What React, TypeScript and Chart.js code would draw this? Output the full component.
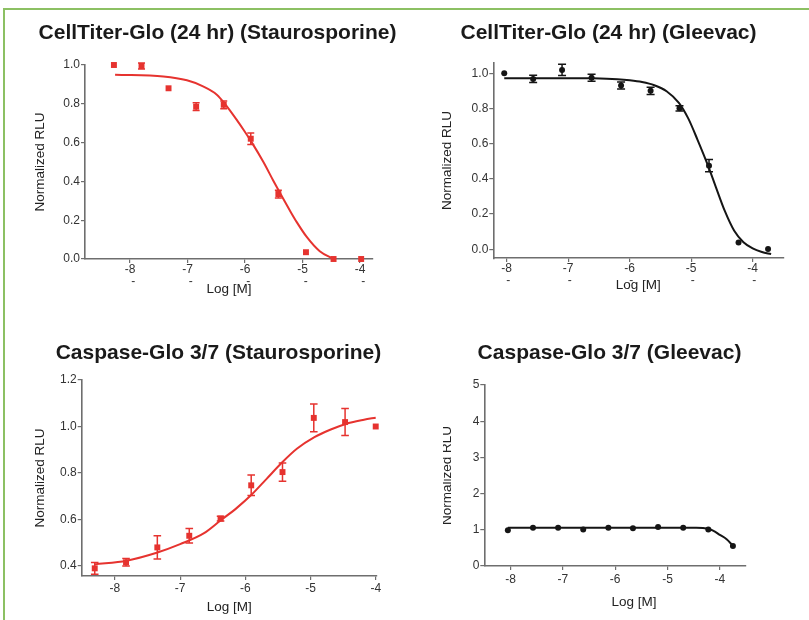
import React, { useEffect, useRef } from 'react';
import { Chart, registerables } from 'chart.js';

Chart.register(...registerables);

const FONT = 'Arial, "Liberation Sans", Helvetica, sans-serif';
const RED = '#e6332f';
const BLACK = '#151515';
const AXIS = '#6e6e6e';
const TICK_TEXT = '#333333';

// ---------- Panel 1: CellTiter-Glo (24 hr) (Staurosporine) ----------
const ctgStauroLogM = [-8.28, -7.8, -7.33, -6.85, -6.37, -5.9, -5.42, -4.94, -4.46, -3.98];
const ctgStauroRLU = [1.0, 0.995, 0.88, 0.785, 0.795, 0.62, 0.335, 0.035, 0.0, 0.0];
const ctgStauroErr = [0, 0.015, 0, 0.02, 0.02, 0.03, 0.02, 0, 0, 0];
const ctgStauroFitX = [-8.26, -7.42, -7.01, -6.73, -6.49, -6.35, -6.15, -6.0, -5.88, -5.68, -5.51, -5.4, -5.22, -5.1, -4.93, -4.7, -4.46];
const ctgStauroFitY = [0.95, 0.941, 0.921, 0.89, 0.847, 0.8, 0.72, 0.655, 0.6, 0.5, 0.405, 0.345, 0.25, 0.19, 0.115, 0.04, 0.0];

// ---------- Panel 2: CellTiter-Glo (24 hr) (Gleevac) ----------
const ctgGleevacLogM = [-8.04, -7.57, -7.1, -6.62, -6.14, -5.66, -5.19, -4.71, -4.23, -3.75];
const ctgGleevacRLU = [1.0, 0.968, 1.019, 0.975, 0.93, 0.9, 0.801, 0.475, 0.038, 0.002];
const ctgGleevacErr = [0, 0.02, 0.032, 0.02, 0.02, 0.02, 0.015, 0.035, 0, 0];
const ctgGleevacFitX = [-8.04, -7.0, -6.6, -6.2, -6.0, -5.8, -5.6, -5.4, -5.2, -5.05, -4.9, -4.72, -4.6, -4.45, -4.3, -4.15, -4.0, -3.85, -3.7];
const ctgGleevacFitY = [0.972, 0.972, 0.971, 0.966, 0.96, 0.95, 0.932, 0.898, 0.832, 0.745, 0.625, 0.47, 0.355, 0.215, 0.105, 0.04, 0.005, -0.015, -0.027];

// ---------- Panel 3: Caspase-Glo 3/7 (Staurosporine) ----------
const casStauroLogM = [-8.31, -7.83, -7.35, -6.86, -6.38, -5.91, -5.43, -4.95, -4.47, -4.0];
const casStauroRLU = [0.39, 0.416, 0.48, 0.53, 0.604, 0.747, 0.804, 1.037, 1.019, 1.0];
const casStauroErr = [0.025, 0.016, 0.05, 0.031, 0.01, 0.044, 0.039, 0.06, 0.058, 0];
const casStauroFitX = [-8.31, -7.82, -7.36, -7.0, -6.64, -6.38, -6.13, -5.91, -5.67, -5.43, -5.21, -4.94, -4.69, -4.46, -4.18, -4.0];
const casStauroFitY = [0.407, 0.423, 0.457, 0.494, 0.54, 0.596, 0.65, 0.705, 0.776, 0.847, 0.904, 0.954, 0.987, 1.011, 1.029, 1.038];

// ---------- Panel 4: Caspase-Glo 3/7 (Gleevac) ----------
const casGleevacLogM = [-8.05, -7.57, -7.09, -6.61, -6.13, -5.66, -5.18, -4.7, -4.22, -3.75];
const casGleevacRLU = [0.99, 1.06, 1.06, 1.01, 1.06, 1.04, 1.08, 1.06, 1.01, 0.55];
const casGleevacErr = [0, 0, 0, 0, 0, 0, 0, 0, 0, 0];
const casGleevacFitX = [-8.05, -7.0, -6.0, -5.0, -4.45, -4.22, -4.13, -4.0, -3.87, -3.75];
const casGleevacFitY = [1.06, 1.06, 1.06, 1.06, 1.06, 1.03, 0.98, 0.86, 0.74, 0.56];

// ---------- Axis ticks / labels ----------
const logTicks = [-8, -7, -6, -5, -4];
const logLabelsP1 = [['-8', '  -'], ['-7', '  -'], ['-6', '  -'], ['-5', '  -'], ['-4', '  -']];
const logLabelsP2 = [['-8', ' -'], ['-7', ' -'], ['-6', ' -'], ['-5', ' -'], ['-4', ' -']];
const logLabelsPlain = ['-8', '-7', '-6', '-5', '-4'];
const rluTicks01 = [0, 0.2, 0.4, 0.6, 0.8, 1.0];
const rluTicksCas = [0.4, 0.6, 0.8, 1.0, 1.2];
const rluTicksInt = [0, 1, 2, 3, 4, 5];

const titles = [
  'CellTiter-Glo (24 hr) (Staurosporine)',
  'CellTiter-Glo (24 hr) (Gleevac)',
  'Caspase-Glo 3/7 (Staurosporine)',
  'Caspase-Glo 3/7 (Gleevac)',
];
const yAxisTitle = 'Normalized RLU';
const xAxisTitle = 'Log [M]';

type Spec = {
  canvas: { left: number; top: number; width: number; height: number };
  area: { l: number; t: number; r: number; b: number };
  titleX: number;
  titleY: number;
  yTitleX: number;
  xTitleY: number;
  xTickPad: number;
  xMin: number;
  xMax: number;
  yMin: number;
  yMax: number;
  yTicks: number[];
  yDecimals: number;
  xLabels: (string | string[])[];
  xTitleText: string;
  title: string;
  color: string;
  pointStyle: string;
  pointRadius: number;
  cap: number;
  logM: number[];
  rlu: number[];
  err: number[];
  fitX: number[];
  fitY: number[];
};

const TITLE_SIZE = 21;
const AXIS_TITLE_SIZE = 13.5;

function makeErrorBars(datasetIndex: number, errors: number[], color: string, cap: number) {
  return {
    id: 'errorBars',
    afterDatasetsDraw(chart: any) {
      const meta = chart.getDatasetMeta(datasetIndex);
      const ds = chart.data.datasets[datasetIndex];
      const ys = chart.scales.y;
      const ctx = chart.ctx;
      ctx.save();
      ctx.strokeStyle = color;
      ctx.lineWidth = 1.5;
      meta.data.forEach((el: any, i: number) => {
        const e = errors[i];
        if (!e) return;
        const v = ds.data[i].y;
        const x = el.x;
        const y1 = ys.getPixelForValue(v + e);
        const y2 = ys.getPixelForValue(v - e);
        ctx.beginPath();
        ctx.moveTo(x, y1);
        ctx.lineTo(x, y2);
        ctx.moveTo(x - cap, y1);
        ctx.lineTo(x + cap, y1);
        ctx.moveTo(x - cap, y2);
        ctx.lineTo(x + cap, y2);
        ctx.stroke();
      });
      ctx.restore();
    },
  };
}

// Panel heading drawn on the chart canvas, centred on a given x
function makePanelTitle(text: string, x: number, y: number) {
  return {
    id: 'panelTitle',
    afterDraw(chart: any) {
      const ctx = chart.ctx;
      ctx.save();
      ctx.fillStyle = '#1a1a1a';
      ctx.font = `bold ${TITLE_SIZE}px ${FONT}`;
      ctx.textAlign = 'center';
      ctx.textBaseline = 'middle';
      ctx.fillText(text, x, y);
      ctx.restore();
    },
  };
}

function buildConfig(s: Spec): any {
  const c = s.canvas;
  const pr = c.left + c.width - s.area.r;
  const pt = s.area.t - c.top;
  const yW = s.area.l - c.left;
  const xH = c.top + c.height - s.area.b;
  const alh = AXIS_TITLE_SIZE * 1.2;
  const yTitlePad = s.yTitleX - c.left - alh / 2;
  const xTitlePad = c.top + c.height - s.xTitleY - alh / 2;

  return {
    type: 'scatter',
    data: {
      datasets: [
        {
          type: 'line',
          data: s.fitX.map((x, i) => ({ x, y: s.fitY[i] })),
          borderColor: s.color,
          borderWidth: 2,
          pointRadius: 0,
          fill: false,
          cubicInterpolationMode: 'monotone',
          clip: false,
          order: 2,
        },
        {
          type: 'scatter',
          data: s.logM.map((x, i) => ({ x, y: s.rlu[i] })),
          pointStyle: s.pointStyle,
          pointRadius: s.pointRadius,
          backgroundColor: s.color,
          borderColor: s.color,
          borderWidth: 0,
          clip: false,
          order: 1,
        },
      ],
    },
    options: {
      responsive: false,
      animation: false,
      events: [],
      layout: { padding: { left: 0, right: pr, top: pt, bottom: 0 } },
      plugins: {
        legend: { display: false },
        tooltip: { enabled: false },
        title: { display: false },
      },
      scales: {
        x: {
          type: 'linear',
          min: s.xMin,
          max: s.xMax,
          afterBuildTicks: (sc: any) => {
            sc.ticks = logTicks.map((v) => ({ value: v }));
          },
          afterFit: (sc: any) => {
            sc.height = xH;
            sc.paddingLeft = 0;
            sc.paddingRight = 0;
          },
          ticks: {
            autoSkip: false,
            maxRotation: 0,
            padding: s.xTickPad,
            color: TICK_TEXT,
            font: { family: FONT, size: 12, lineHeight: 1.0 },
            callback: (_v: any, i: number) => s.xLabels[i],
          },
          grid: { drawOnChartArea: false, drawTicks: true, tickLength: 4, color: AXIS, lineWidth: 1.2 },
          border: { display: true, color: AXIS, width: 1.6 },
          title: {
            display: true,
            text: s.xTitleText,
            color: '#222222',
            font: { family: FONT, size: AXIS_TITLE_SIZE },
            padding: { top: 0, bottom: xTitlePad },
          },
        },
        y: {
          type: 'linear',
          min: s.yMin,
          max: s.yMax,
          afterBuildTicks: (sc: any) => {
            sc.ticks = s.yTicks.map((v) => ({ value: v }));
          },
          afterFit: (sc: any) => {
            sc.width = yW;
            sc.paddingTop = 0;
            sc.paddingBottom = 0;
          },
          ticks: {
            autoSkip: false,
            padding: 1,
            color: TICK_TEXT,
            font: { family: FONT, size: 12 },
            callback: (v: any) => Number(v).toFixed(s.yDecimals),
          },
          grid: { drawOnChartArea: false, drawTicks: true, tickLength: 4, color: AXIS, lineWidth: 1.2 },
          border: { display: true, color: AXIS, width: 1.6 },
          title: {
            display: true,
            text: yAxisTitle,
            color: '#222222',
            font: { family: FONT, size: AXIS_TITLE_SIZE },
            padding: { top: yTitlePad, bottom: 0 },
          },
        },
      },
    },
    plugins: [
      makeErrorBars(1, s.err, s.color, s.cap),
      makePanelTitle(s.title, s.titleX - c.left, s.titleY - c.top),
    ],
  };
}

const specs: Spec[] = [
  {
    canvas: { left: 0, top: 10, width: 405, height: 300 },
    area: { l: 85, t: 65, r: 373, b: 259 },
    titleX: 217.5, titleY: 33, yTitleX: 40, xTitleY: 289, xTickPad: 0.5,
    xMin: -8.783, xMax: -3.774, yMin: 0, yMax: 1.0,
    yTicks: rluTicks01, yDecimals: 1, xLabels: logLabelsP1, xTitleText: xAxisTitle,
    title: titles[0], color: RED, pointStyle: 'rect', pointRadius: 4.2, cap: 3.5,
    logM: ctgStauroLogM, rlu: ctgStauroRLU, err: ctgStauroErr, fitX: ctgStauroFitX, fitY: ctgStauroFitY,
  },
  {
    canvas: { left: 410, top: 10, width: 399, height: 300 },
    area: { l: 493.3, t: 62.7, r: 783.3, b: 258.1 },
    titleX: 608.5, titleY: 33, yTitleX: 447, xTitleY: 285, xTickPad: 1,
    xMin: -8.218, xMax: -3.502, yMin: -0.05, yMax: 1.06,
    yTicks: rluTicks01, yDecimals: 1, xLabels: logLabelsP2, xTitleText: xAxisTitle,
    title: titles[1], color: BLACK, pointStyle: 'circle', pointRadius: 3, cap: 4,
    logM: ctgGleevacLogM, rlu: ctgGleevacRLU, err: ctgGleevacErr, fitX: ctgGleevacFitX, fitY: ctgGleevacFitY,
  },
  {
    canvas: { left: 0, top: 320, width: 405, height: 300 },
    area: { l: 81.7, t: 380, r: 376.7, b: 576 },
    titleX: 218.5, titleY: 353, yTitleX: 40, xTitleY: 607, xTickPad: 2.5,
    xMin: -8.51, xMax: -3.985, yMin: 0.357, yMax: 1.2,
    yTicks: rluTicksCas, yDecimals: 1, xLabels: logLabelsPlain, xTitleText: xAxisTitle,
    title: titles[2], color: RED, pointStyle: 'rect', pointRadius: 4.2, cap: 3.8,
    logM: casStauroLogM, rlu: casStauroRLU, err: casStauroErr, fitX: casStauroFitX, fitY: casStauroFitY,
  },
  {
    canvas: { left: 443, top: 320, width: 366, height: 300 },
    area: { l: 484.3, t: 385, r: 746, b: 566 },
    titleX: 609.5, titleY: 353, yTitleX: 447, xTitleY: 602, xTickPad: 3.5,
    xMin: -8.5, xMax: -3.5, yMin: 0, yMax: 5,
    yTicks: rluTicksInt, yDecimals: 0, xLabels: logLabelsPlain, xTitleText: '          ' + xAxisTitle,
    title: titles[3], color: BLACK, pointStyle: 'circle', pointRadius: 3, cap: 3,
    logM: casGleevacLogM, rlu: casGleevacRLU, err: casGleevacErr, fitX: casGleevacFitX, fitY: casGleevacFitY,
  },
];

function Panel({ spec }: { spec: Spec }) {
  const ref = useRef<HTMLCanvasElement | null>(null);
  useEffect(() => {
    if (!ref.current) return;
    const chart = new Chart(ref.current, buildConfig(spec));
    return () => chart.destroy();
  }, [spec]);
  const c = spec.canvas;
  return (
    <canvas
      ref={ref}
      width={c.width}
      height={c.height}
      style={{ position: 'absolute', left: c.left, top: c.top, width: c.width, height: c.height }}
    />
  );
}

export default function App() {
  return (
    <div style={{ position: 'absolute', left: 0, top: 0, width: 809, height: 620, background: '#ffffff', overflow: 'hidden' }}>
      <div
        style={{
          position: 'absolute',
          left: 3,
          top: 8,
          width: 806,
          height: 612,
          borderLeft: '2px solid #8cc063',
          borderTop: '2px solid #8cc063',
          boxSizing: 'border-box',
        }}
      />
      {specs.map((s, i) => (
        <Panel key={i} spec={s} />
      ))}
    </div>
  );
}
